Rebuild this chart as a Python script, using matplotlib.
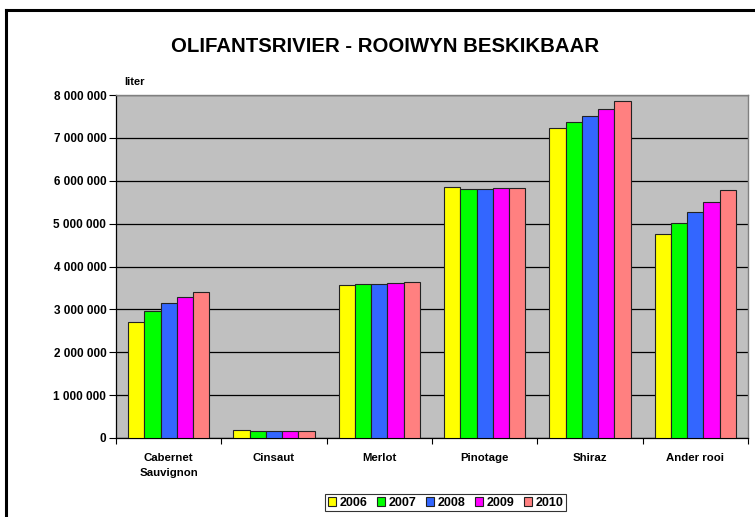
import numpy as np
import matplotlib
matplotlib.use("Agg")
import matplotlib.pyplot as plt
from matplotlib.ticker import FuncFormatter
from matplotlib.lines import Line2D

# -----------------------------
# DATA
# -----------------------------
categories = ["Cabernet\nSauvignon", "Cinsaut", "Merlot", "Pinotage", "Shiraz", "Ander rooi"]
years = ["2006", "2007", "2008", "2009", "2010"]

v2006 = [2700000, 175000, 3580000, 5860000, 7240000, 4750000]
v2007 = [2970000, 170000, 3590000, 5810000, 7370000, 5020000]
v2008 = [3140000, 165000, 3600000, 5810000, 7510000, 5270000]
v2009 = [3280000, 158000, 3620000, 5820000, 7670000, 5500000]
v2010 = [3410000, 152000, 3650000, 5840000, 7870000, 5780000]
series = [v2006, v2007, v2008, v2009, v2010]

colors = ["#FFFF00", "#00FF00", "#3366FF", "#FF00FF", "#FF8080"]

plt.rcParams["font.family"] = ["Liberation Sans", "DejaVu Sans"]
plt.rcParams["font.weight"] = "bold"

# -----------------------------
# FIGURE
# -----------------------------
W, H = 755, 517
fig = plt.figure(figsize=(W / 100, H / 100), dpi=100)
ax = fig.add_axes([116 / W, 1 - 438 / H, (748 - 116) / W, (438 - 95) / H])

x = np.arange(len(categories))
bw = 0.154
for i, (vals, c) in enumerate(zip(series, colors)):
    ax.bar(x + (i - 2) * bw, vals, width=bw, color=c, edgecolor="#222222",
           linewidth=0.8, label=years[i], zorder=3)

ax.set_facecolor("#C0C0C0")
ax.set_xlim(-0.5, len(categories) - 0.5)
ax.set_ylim(0, 8000000)
ax.set_yticks(np.arange(0, 8000001, 1000000))
ax.yaxis.set_major_formatter(FuncFormatter(lambda v, p: f"{int(v):,}".replace(",", " ")))
ax.grid(axis="y", color="black", linewidth=0.9, zorder=1)
ax.set_axisbelow(True)

# ticks between categories, labels at centres
ax.set_xticks(np.arange(-0.5, len(categories), 1))
ax.set_xticklabels([])
ax.set_xticks(x, minor=True)
ax.set_xticklabels(categories, minor=True, fontsize=8.2, fontweight="bold", linespacing=1.55)
ax.tick_params(axis="x", which="minor", length=0, pad=11)
ax.tick_params(axis="x", which="major", length=4, width=0.8)
ax.tick_params(axis="y", length=5, width=0.8, labelsize=8.5, pad=2)
for lab in ax.get_yticklabels():
    lab.set_fontweight("bold")

for s in ["top", "right"]:
    ax.spines[s].set_color("#808080")
    ax.spines[s].set_linewidth(1.0)
for s in ["left", "bottom"]:
    ax.spines[s].set_color("black")
    ax.spines[s].set_linewidth(0.9)

# title and unit label
fig.text(385.5 / W, 1 - 46 / H, "OLIFANTSRIVIER - ROOIWYN BESKIKBAAR", ha="center", va="center",
         fontsize=14.7, fontweight="bold")
fig.text(124 / W, 1 - 82 / H, "liter", ha="left", va="center", fontsize=8, fontweight="bold")

# legend
leg = fig.legend(loc="center", bbox_to_anchor=(445.5 / W, 1 - 502.7 / H), ncol=5,
                 fontsize=9, frameon=True, fancybox=False, handlelength=0.7, handleheight=0.7,
                 handletextpad=0.25, columnspacing=0.75, borderpad=0.2, borderaxespad=0)
leg.get_frame().set_edgecolor("black")
leg.get_frame().set_linewidth(0.8)
for t in leg.get_texts():
    t.set_fontweight("bold")

# outer frame (only top and left visible in the crop)
fig.add_artist(Line2D([6 / W, 1], [1 - 10 / H, 1 - 10 / H], color="black", linewidth=2.2,
                      transform=fig.transFigure))
fig.add_artist(Line2D([6 / W, 6 / W], [0, 1 - 10 / H], color="black", linewidth=2.2,
                      transform=fig.transFigure))

fig.savefig("out.png", dpi=100)
